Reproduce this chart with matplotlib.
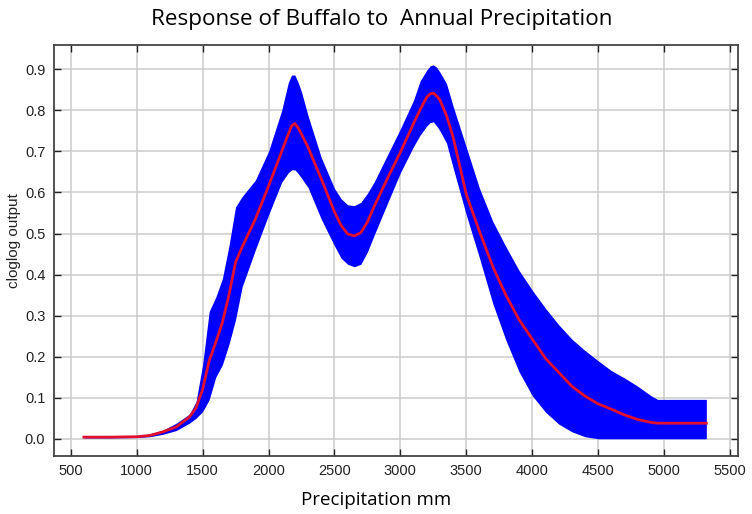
import numpy as np
import matplotlib
matplotlib.use('Agg')
import matplotlib.pyplot as plt

# values
precip = [600, 800, 1000, 1100, 1200, 1300, 1400, 1450, 1500, 1550, 1600, 1650,
          1700, 1750, 1800, 1900, 2000, 2100, 2150, 2175, 2200, 2225, 2250, 2300,
          2400, 2500, 2550, 2600, 2650, 2700, 2750, 2800, 2900, 3000, 3100, 3150,
          3200, 3225, 3250, 3275, 3300, 3350, 3400, 3500, 3600, 3700, 3800, 3900,
          4000, 4100, 4200, 4300, 4400, 4500, 4600, 4700, 4800, 4900, 4950, 5000,
          5100, 5200, 5320]

mean_resp = [0.004, 0.004, 0.005, 0.008, 0.017, 0.029, 0.053, 0.075, 0.12, 0.19, 0.235, 0.283,
             0.35, 0.43, 0.467, 0.535, 0.615, 0.70, 0.742, 0.762, 0.768, 0.757, 0.742, 0.71,
             0.633, 0.553, 0.52, 0.499, 0.494, 0.502, 0.528, 0.565, 0.633, 0.698, 0.768, 0.802,
             0.832, 0.840, 0.842, 0.835, 0.825, 0.787, 0.735, 0.595, 0.505, 0.42, 0.35, 0.29,
             0.243, 0.196, 0.162, 0.128, 0.104, 0.085, 0.072, 0.058, 0.047, 0.04, 0.038, 0.038,
             0.038, 0.038, 0.038]

upper_resp = [0.006, 0.006, 0.007, 0.012, 0.021, 0.038, 0.06, 0.09, 0.18, 0.31, 0.345, 0.39,
              0.47, 0.565, 0.59, 0.63, 0.70, 0.80, 0.868, 0.886, 0.886, 0.868, 0.845, 0.787,
              0.685, 0.61, 0.585, 0.57, 0.568, 0.576, 0.598, 0.625, 0.69, 0.755, 0.825, 0.872,
              0.898, 0.908, 0.911, 0.905, 0.893, 0.865, 0.81, 0.71, 0.61, 0.53, 0.468, 0.41,
              0.362, 0.318, 0.278, 0.243, 0.215, 0.19, 0.166, 0.148, 0.128, 0.105, 0.096, 0.096,
              0.096, 0.096, 0.096]

lower_resp = [0.002, 0.002, 0.003, 0.005, 0.011, 0.02, 0.038, 0.05, 0.066, 0.095, 0.15, 0.18,
              0.23, 0.29, 0.37, 0.46, 0.545, 0.625, 0.648, 0.655, 0.655, 0.646, 0.635, 0.612,
              0.535, 0.47, 0.44, 0.425, 0.419, 0.425, 0.455, 0.495, 0.572, 0.648, 0.712, 0.74,
              0.762, 0.77, 0.772, 0.762, 0.75, 0.72, 0.66, 0.545, 0.44, 0.33, 0.24, 0.163,
              0.105, 0.065, 0.036, 0.017, 0.005, 0.0, 0.0, 0.0, 0.0, 0.0, 0.0, 0.0,
              0.0, 0.0, 0.0]

xticks = [500, 1000, 1500, 2000, 2500, 3000, 3500, 4000, 4500, 5000, 5500]
yticks = [0.0, 0.1, 0.2, 0.3, 0.4, 0.5, 0.6, 0.7, 0.8, 0.9]

fig = plt.figure(figsize=(7.52, 5.14), dpi=100)
ax = fig.add_axes([0.0714, 0.1128, 0.9096, 0.7991])

ax.fill_between(precip, lower_resp, upper_resp, color='#0000ff', lw=0, zorder=2)
ax.plot(precip, mean_resp, color='#e0102e', lw=2, zorder=3, solid_joinstyle='round')

ax.set_xlim(371, 5558)
ax.set_ylim(-0.042, 0.9585)
ax.set_xticks(xticks)
ax.set_yticks(yticks)
ax.set_yticklabels(['%.1f' % v for v in yticks])

ax.grid(True, color='#cccccc', lw=1.1, zorder=0)
ax.set_axisbelow(True)
ax.tick_params(direction='in', length=5, width=1, top=True, right=True,
               labelsize=10.5, colors='#222222', pad=6)
for lab in ax.get_xticklabels() + ax.get_yticklabels():
    lab.set_family('Liberation Sans')
for sp in ax.spines.values():
    sp.set_color('#444444')
    sp.set_linewidth(1.3)

ax.set_xlabel('Precipitation mm', family='Open Sans', fontsize=13.5)
ax.xaxis.set_label_coords(0.471, -0.085)
ax.set_ylabel('cloglog output', family='Liberation Sans', fontsize=11, color='#222222')
ax.yaxis.set_label_coords(-0.0478, 0.5235)
fig.text(0.508, 0.962, 'Response of Buffalo to  Annual Precipitation',
         family='Open Sans', fontsize=16.2, ha='center', va='center')

fig.savefig('out.png', dpi=100)
